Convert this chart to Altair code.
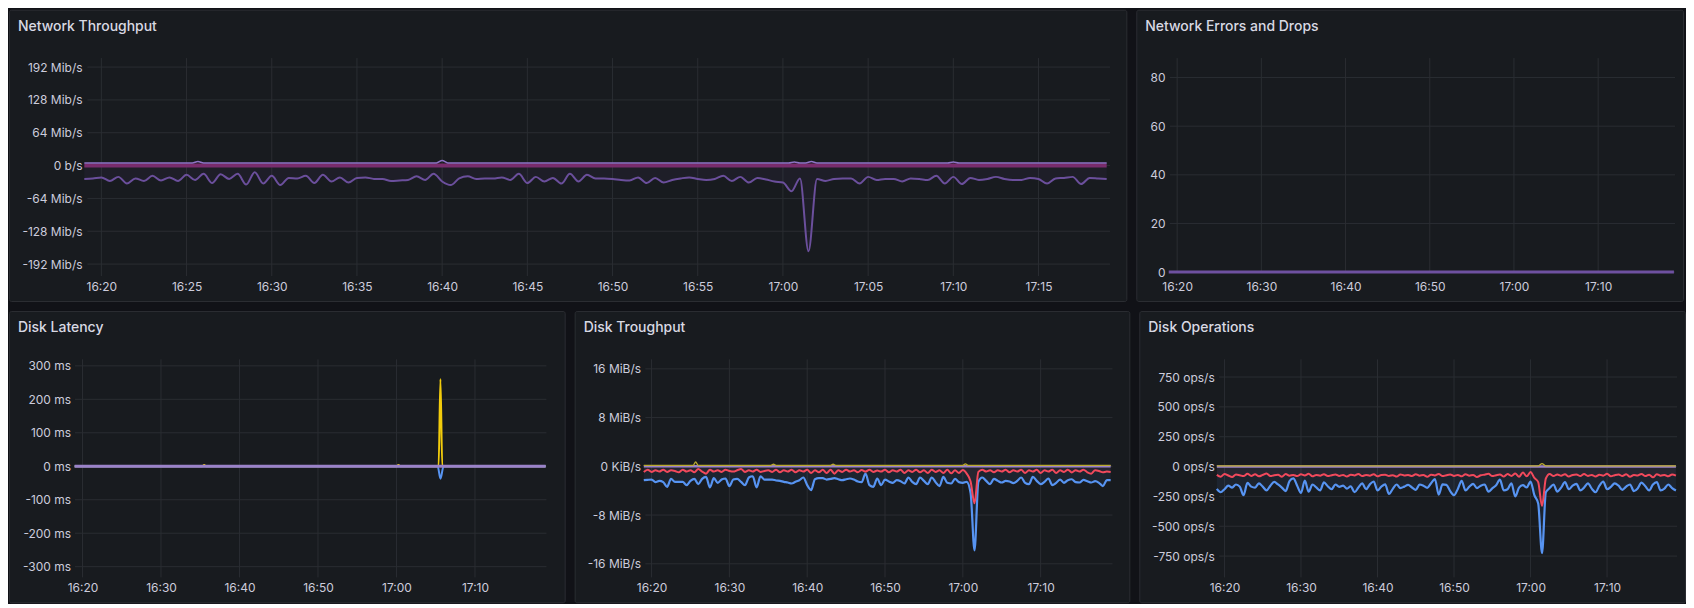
import altair as alt
import pandas as pd

# ---------------- data ----------------
DAY = "2024-01-01"
N = 121  # 30 s samples from 16:19:00 to 17:19:00
T = pd.date_range(f"{DAY} 16:19:00", periods=N, freq="30s").strftime("%Y-%m-%dT%H:%M:%S").tolist()
EDGE_T = ["16:19:00", "17:19:00"]

NET_TICKS = ["16:20", "16:25", "16:30", "16:35", "16:40", "16:45", "16:50",
             "16:55", "17:00", "17:05", "17:10", "17:15"]
TEN_TICKS = ["16:20", "16:30", "16:40", "16:50", "17:00", "17:10"]

NET_Y = [192, 128, 64, 0, -64, -128, -192]
NET_Y_LAB = ["192 Mib/s", "128 Mib/s", "64 Mib/s", "0 b/s", "-64 Mib/s", "-128 Mib/s", "-192 Mib/s"]
ERR_Y = [80, 60, 40, 20, 0]
ERR_Y_LAB = ["80", "60", "40", "20", "0"]
LAT_Y = [300, 200, 100, 0, -100, -200, -300]
LAT_Y_LAB = ["300 ms", "200 ms", "100 ms", "0 ms", "-100 ms", "-200 ms", "-300 ms"]
TP_Y = [16, 8, 0, -8, -16]
TP_Y_LAB = ["16 MiB/s", "8 MiB/s", "0 KiB/s", "-8 MiB/s", "-16 MiB/s"]
OPS_Y = [750, 500, 250, 0, -250, -500, -750]
OPS_Y_LAB = ["750 ops/s", "500 ops/s", "250 ops/s", "0 ops/s", "-250 ops/s", "-500 ops/s", "-750 ops/s"]

# Network throughput, transmit (Mib/s, drawn negative)
NET_TX = [
    -26, -25, -23, -30, -22, -35, -25, -30, -20, -29,
    -23, -30, -18, -28, -16, -34, -17, -26, -16, -37,
    -13, -35, -20, -38, -24, -25, -20, -34, -18, -31,
    -23, -33, -24, -23, -26, -26, -30, -29, -28, -21,
    -28, -16, -31, -38, -25, -21, -26, -25, -25, -23,
    -28, -16, -34, -22, -31, -24, -35, -16, -31, -18,
    -25, -25, -26, -28, -29, -23, -34, -24, -33, -28,
    -25, -23, -26, -28, -26, -20, -30, -22, -33, -24,
    -27, -31, -33, -50, -25, -167, -26, -30, -26, -25,
    -25, -35, -22, -28, -26, -26, -31, -25, -26, -28,
    -20, -35, -22, -36, -24, -28, -26, -22, -26, -28,
    -28, -24, -26, -35, -25, -24, -22, -36, -24, -25,
    -26,
]
# Network throughput, receive (sparse points, Mib/s)
NET_RX_T = ["16:19:00", "16:25:20", "16:25:40", "16:26:00", "16:39:40", "16:40:00", "16:40:20",
            "17:00:20", "17:00:40", "17:01:00", "17:01:20", "17:01:40", "17:02:00",
            "17:09:40", "17:10:00", "17:10:20", "17:19:00"]
NET_RX = [5, 5, 8, 5, 5, 10, 5, 5, 7, 5, 5, 8, 5, 5, 7, 5, 5]
NET_LO = [0, 0]
ERR_DROP = [0, 0]

# Disk latency (ms), sparse points
LAT_READ_T = ["16:19:00", "16:35:15", "16:35:30", "16:35:45", "17:00:00", "17:00:15", "17:00:30",
              "17:05:22", "17:05:36", "17:05:50", "17:19:00"]
LAT_READ = [0, 0, 4, 0, 0, 4, 0, 0, 261, 0, 0]
LAT_WRITE_T = ["16:19:00", "17:05:15", "17:05:36", "17:06:00", "17:19:00"]
LAT_WRITE = [0, 0, -37, 0, 0]
LAT_IO = [0, 0]

# Disk throughput (MiB/s)
TP_WRITE = [
    -2.28, -2.22, -2.17, -2.60, -2.39, -2.60, -3.36, -2.06, -2.55, -2.55,
    -2.55, -3.09, -2.39, -2.06, -2.93, -2.06, -1.74, -3.47, -1.95, -2.71,
    -2.17, -2.00, -3.25, -2.17, -2.06, -2.55, -3.09, -1.84, -1.63, -3.47,
    -1.63, -2.17, -2.17, -2.17, -2.33, -2.39, -2.55, -2.66, -2.82, -2.55,
    -2.28, -1.84, -3.09, -3.90, -2.12, -1.95, -1.95, -2.17, -2.06, -1.95,
    -2.12, -2.28, -2.12, -2.00, -2.17, -2.49, -2.60, -1.20, -3.09, -3.36,
    -2.00, -3.09, -2.17, -2.49, -2.71, -2.28, -2.44, -2.82, -1.84, -2.55,
    -2.93, -1.84, -2.39, -2.93, -1.84, -2.60, -3.25, -1.74, -2.71, -2.82,
    -2.06, -2.60, -2.71, -2.55, -4.40, -13.8, -2.55, -1.84, -2.39, -2.93,
    -2.06, -2.39, -2.66, -2.39, -2.49, -2.76, -2.39, -1.84, -2.71, -2.93,
    -1.74, -2.39, -2.93, -2.55, -2.00, -3.09, -2.71, -2.17, -2.71, -2.28,
    -2.12, -2.60, -2.66, -2.22, -2.44, -2.66, -2.44, -2.71, -3.25, -2.28,
    -2.28,
]
TP_READ = [
    -0.92, -0.55, -0.92, -0.65, -0.87, -0.55, -0.92, -0.65, -0.76, -0.98,
    -0.55, -0.87, -0.65, -0.98, -0.43, -0.87, -1.20, -0.55, -0.87, -0.65,
    -0.92, -0.55, -0.76, -0.87, -0.65, -0.43, -0.92, -0.65, -0.87, -0.55,
    -0.92, -0.76, -0.65, -0.92, -0.55, -0.98, -0.65, -0.87, -0.55, -0.98,
    -0.65, -0.87, -0.55, -1.09, -0.65, -0.98, -0.55, -1.09, -0.55, -1.20,
    -0.65, -0.92, -0.55, -0.87, -0.65, -0.98, -0.60, -0.87, -0.55, -0.92,
    -0.70, -0.87, -0.55, -0.98, -0.65, -0.87, -0.55, -1.09, -0.65, -0.92,
    -0.55, -0.98, -0.65, -1.09, -0.55, -0.92, -0.65, -1.09, -0.55, -1.15,
    -0.65, -1.09, -0.60, -1.20, -2.50, -6.07, -0.92, -0.55, -0.87, -0.65,
    -0.98, -0.65, -0.87, -0.55, -0.98, -0.65, -0.87, -0.55, -1.09, -0.65,
    -0.87, -0.55, -1.09, -0.65, -0.87, -0.55, -1.09, -0.65, -0.92, -0.55,
    -1.00, -0.65, -0.87, -0.55, -0.98, -1.20, -0.65, -0.76, -0.98, -0.87,
    -0.92,
]
TP_OTHER_T = ["16:19:00", "16:25:20", "16:25:40", "16:26:00", "16:35:20", "16:35:40", "16:36:00",
              "16:43:00", "16:43:20", "16:43:40", "17:00:00", "17:00:20", "17:00:40", "17:19:00"]
TP_OTHER = [0.15, 0.15, 0.7, 0.15, 0.15, 0.35, 0.15, 0.15, 0.35, 0.15, 0.15, 0.4, 0.15, 0.15]
TP_IO = [0, 0]

# Disk operations (ops/s)
OPS_WRITE = [
    -187, -215, -190, -160, -176, -150, -168, -240, -137, -168,
    -176, -140, -168, -200, -160, -129, -150, -176, -205, -122,
    -99, -160, -220, -118, -210, -150, -175, -200, -133, -165,
    -190, -150, -170, -160, -185, -165, -215, -176, -140, -190,
    -149, -125, -200, -168, -149, -230, -187, -150, -180, -168,
    -153, -175, -195, -150, -160, -178, -140, -105, -235, -149,
    -153, -205, -240, -187, -120, -200, -168, -145, -180, -160,
    -150, -210, -183, -156, -110, -200, -190, -140, -250, -176,
    -156, -175, -125, -240, -310, -725, -215, -180, -150, -210,
    -176, -130, -190, -160, -145, -200, -176, -140, -185, -215,
    -160, -125, -190, -170, -140, -160, -195, -168, -150, -205,
    -183, -135, -165, -200, -150, -130, -200, -185, -150, -180,
    -200,
]
OPS_READ = [
    -70, -85, -62, -75, -88, -66, -72, -80, -60, -78,
    -65, -82, -70, -58, -80, -72, -68, -85, -62, -76,
    -70, -80, -65, -74, -60, -82, -70, -76, -64, -80,
    -72, -66, -78, -70, -84, -68, -74, -62, -80, -70,
    -76, -64, -82, -70, -68, -78, -72, -84, -66, -74,
    -70, -80, -64, -76, -70, -86, -68, -74, -62, -80,
    -72, -66, -78, -70, -82, -64, -76, -70, -88, -72,
    -68, -60, -80, -72, -66, -84, -62, -78, -58, -85,
    -50, -82, -46, -95, -130, -330, -100, -62, -80, -66,
    -76, -64, -84, -70, -66, -80, -62, -78, -70, -84,
    -68, -76, -60, -82, -72, -66, -80, -64, -86, -70,
    -74, -62, -80, -68, -90, -64, -76, -70, -82, -66,
    -76,
]
OPS_OTHER_T = ["16:19:00", "17:01:00", "17:01:30", "17:02:00", "17:19:00"]
OPS_OTHER = [6, 6, 25, 6, 6]
OPS_IO = [0, 0]

# ---------------- styling ----------------
BG = "#111217"
PANEL = "#181b1f"
BORDER = "#2b2d32"
GRID = "#2a2d32"
TEXT = "#ccccdc"
FONT = "Inter"
H = 292
XAXIS_Y = 270


def iso(hms):
    if hms.count(":") == 1:
        hms = hms + ":00"
    return f"{DAY}T{hms}"


def dt(hm):
    h, m = [int(p) for p in hm.split(":")[:2]]
    return alt.DateTime(year=2024, month=1, date=1, hours=h, minutes=m)


def label_expr(vals, labels):
    parts = [f"datum.value == {v} ? '{l}'" for v, l in zip(vals, labels)]
    return " : ".join(parts) + " : ''"


def frame(values, times=None):
    if times is None:
        times = T if len(values) == N else [iso(s) for s in EDGE_T]
    else:
        times = [iso(s) for s in times]
    return pd.DataFrame({"t": times, "v": values})


def panel(title, W, xr, ydom, yr, yvals, ylabels, xticks, gx, gy, yl_right, series):
    X = alt.X("t:T", scale=alt.Scale(domain=[dt("16:19"), dt("17:19")], range=list(xr)),
              axis=alt.Axis(title=None, values=[dt(s) for s in xticks], format="%H:%M",
                            grid=False, domain=False, ticks=False, tickSize=0,
                            labelPadding=7.5, labelBaseline="middle",
                            offset=-(H - XAXIS_Y), labelFlush=False, labelOverlap=False))
    Y = alt.Y("v:Q", scale=alt.Scale(domain=list(ydom), range=list(yr), nice=False, zero=False),
              axis=alt.Axis(title=None, values=list(yvals), labelExpr=label_expr(yvals, ylabels),
                            grid=False, domain=False, ticks=False, tickSize=0, labelPadding=0,
                            labelAlign="right", labelBaseline="middle",
                            offset=-yl_right, labelFlush=False, labelOverlap=False))
    hgrid = alt.Chart(pd.DataFrame({"v": list(yvals)})).mark_rule(color=GRID, strokeWidth=1).encode(
        y=Y, x=alt.value(gx[0]), x2=alt.value(gx[1]))
    vgrid = alt.Chart(pd.DataFrame({"t": [iso(s) for s in xticks]})).mark_rule(color=GRID, strokeWidth=1).encode(
        x=X, y=alt.value(gy[0]), y2=alt.value(gy[1]))
    layers = [hgrid, vgrid]
    for s in series:
        df = frame(s["v"], s.get("t"))
        if s.get("fill"):
            layers.append(alt.Chart(df).mark_area(color=s["color"], opacity=s["fill"], interpolate="monotone")
                          .encode(x=X, y=Y, y2=alt.datum(0)))
        layers.append(alt.Chart(df).mark_line(color=s["color"], strokeWidth=s["w"], interpolate="monotone")
                      .encode(x=X, y=Y))
    ttl = alt.Chart(pd.DataFrame({"title": [title]})).mark_text(
        align="left", baseline="middle", font=FONT, fontSize=14, fontWeight=500, color="#d8d9e3"
    ).encode(x=alt.value(9), y=alt.value(17), text="title:N")
    layers.append(ttl)
    return alt.layer(*layers).properties(width=W, height=H)


p_net = panel("Network Throughput", 1120, (75.5, 1100.3), (-192, 192), (255, 57.5),
              NET_Y, NET_Y_LAB, NET_TICKS, (78.6, 1103.6), (48.5, 267), 73.2,
              [dict(v=NET_LO, color="#7a2b6b", w=4),
               dict(v=NET_TX, color="#6b4f9c", w=2.0, fill=0.08),
               dict(v=NET_RX, t=NET_RX_T, color="#8e73c6", w=1.5)])

p_err = panel("Network Errors and Drops", 548, (32.5, 538.9), (0, 80), (263, 68),
              ERR_Y, ERR_Y_LAB, TEN_TICKS, (33.6, 540), (48.5, 263), 28.8,
              [dict(v=ERR_DROP, color="#6e51a0", w=3)])

p_lat = panel("Disk Latency", 557, (65.8, 537.9), (-300, 300), (256.3, 55),
              LAT_Y, LAT_Y_LAB, TEN_TICKS, (66.1, 538.7), (48.5, 267), 61.7,
              [dict(v=LAT_READ, t=LAT_READ_T, color="#f2cc0c", w=2.0),
               dict(v=LAT_WRITE, t=LAT_WRITE_T, color="#5794f2", w=2.0),
               dict(v=LAT_IO, color="#9a82c9", w=3)])

p_tp = panel("Disk Troughput", 556, (69.3, 537.3), (-16, 16), (253.4, 58),
             TP_Y, TP_Y_LAB, TEN_TICKS, (70.9, 539.1), (48.5, 267), 66.1,
             [dict(v=TP_WRITE, color="#5794f2", w=2.2, fill=0.08),
              dict(v=TP_READ, color="#f2495c", w=2.0, fill=0.05),
              dict(v=TP_IO, color="#9a82c9", w=2.5),
              dict(v=TP_OTHER, t=TP_OTHER_T, color="#b9a92e", w=1.4)])

p_ops = panel("Disk Operations", 547, (77.7, 537.9), (-750, 750), (245.7, 66.2),
              OPS_Y, OPS_Y_LAB, TEN_TICKS, (80, 539.1), (48.5, 267), 75.1,
              [dict(v=OPS_WRITE, color="#5794f2", w=2.2, fill=0.08),
               dict(v=OPS_READ, color="#f2495c", w=2.0, fill=0.05),
               dict(v=OPS_IO, color="#9a82c9", w=2.5),
               dict(v=OPS_OTHER, t=OPS_OTHER_T, color="#b9a92e", w=1.4)])

top = alt.hconcat(p_net, p_err, spacing=8)
bottom = alt.hconcat(p_lat, p_tp, p_ops, spacing=8)

chart = (
    alt.vconcat(top, bottom, spacing=8)
    .properties(background=BG, padding=0)
    .configure_view(fill=PANEL, stroke=BORDER, strokeWidth=1, cornerRadius=2)
    .configure_axis(labelFont=FONT, labelFontSize=12, labelColor=TEXT, minExtent=0)
)

chart.save("out.html", embed_options={"renderer": "svg", "actions": False})
